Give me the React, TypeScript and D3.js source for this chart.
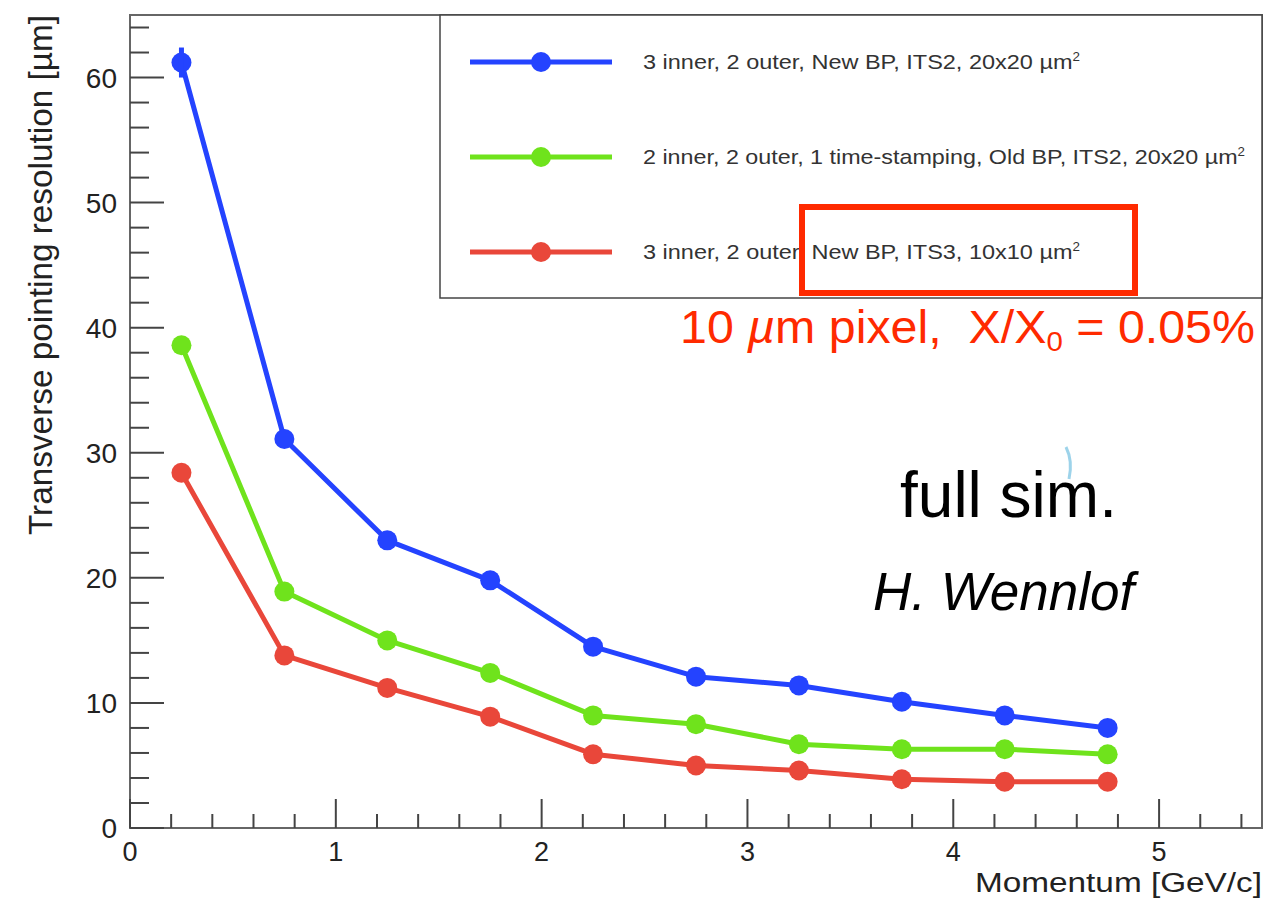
import React from "react";
import * as d3 from "d3";

const momentum = [0.25, 0.75, 1.25, 1.75, 2.25, 2.75, 3.25, 3.75, 4.25, 4.75];
const blueValues = [61.2, 31.1, 23.0, 19.8, 14.5, 12.1, 11.4, 10.1, 9.0, 8.0];
const greenValues = [38.6, 18.9, 15.0, 12.4, 9.0, 8.3, 6.7, 6.3, 6.3, 5.9];
const redValues = [28.4, 13.8, 11.2, 8.9, 5.9, 5.0, 4.6, 3.9, 3.7, 3.7];
const blueErrors = [1.2, 0, 0, 0, 0, 0, 0, 0, 0, 0];

const legendLabels = [
  "3 inner, 2 outer, New BP, ITS2, 20x20 \u00b5m",
  "2 inner, 2 outer, 1 time-stamping, Old BP, ITS2, 20x20 \u00b5m",
  "3 inner, 2 outer, New BP, ITS3, 10x10 \u00b5m",
];
const legendWidths = [437, 602, 437];
const seriesColors = ["#2443ff", "#6fe31c", "#e9473a"];

const W = 1278;
const H = 899;
const FONT = "'Liberation Sans', Arial, Helvetica, sans-serif";

export default function App() {
  const x = d3.scaleLinear().domain([0, 5.5]).range([130, 1262]);
  const y = d3.scaleLinear().domain([0, 65]).range([828, 15]);
  const series = [blueValues, greenValues, redValues];
  const line = d3
    .line<number>()
    .x((_, i) => x(momentum[i]))
    .y((d) => y(d));

  const xMajor = x.ticks(6);
  const xMinor = d3.range(0, 5.5001, 0.2).filter((v) => Math.abs(v - Math.round(v)) > 1e-6);
  const yMajor = y.ticks(7);
  const yMinor = d3.range(0, 65.001, 2).filter((v) => Math.abs(v % 10) > 1e-6);

  const axisColor = "#444";
  const legendY = [62, 157, 252];

  return (
    <svg
      width={W}
      height={H}
      style={{ position: "fixed", left: 0, top: 0, background: "#fff" }}
      fontFamily={FONT}
    >
      <rect x={0} y={0} width={W} height={H} fill="#fff" />
      {/* frame */}
      <rect x={130} y={15} width={1132} height={813} fill="none" stroke="#666" strokeWidth={2} />

      {/* x ticks */}
      {xMajor.map((v) => (
        <line key={"xM" + v} x1={x(v)} x2={x(v)} y1={828} y2={799} stroke={axisColor} strokeWidth={2} />
      ))}
      {xMinor.map((v) => (
        <line key={"xm" + v} x1={x(v)} x2={x(v)} y1={828} y2={814} stroke={axisColor} strokeWidth={2} />
      ))}
      {xMajor.map((v) => (
        <text key={"xl" + v} x={x(v)} y={861} fontSize={27} textAnchor="middle" fill="#222">
          {v}
        </text>
      ))}

      {/* y ticks */}
      {yMajor.map((v) => (
        <line key={"yM" + v} x1={130} x2={164} y1={y(v)} y2={y(v)} stroke={axisColor} strokeWidth={2} />
      ))}
      {yMinor.map((v) => (
        <line key={"ym" + v} x1={130} x2={149} y1={y(v)} y2={y(v)} stroke={axisColor} strokeWidth={2} />
      ))}
      {yMajor.map((v) => (
        <text key={"yl" + v} x={117} y={y(v) + 10} fontSize={28} textAnchor="end" fill="#222">
          {v}
        </text>
      ))}

      {/* axis titles */}
      <text x={1262} y={892} fontSize={27} textAnchor="end" fill="#222" textLength={287} lengthAdjust="spacingAndGlyphs">
        Momentum [GeV/c]
      </text>
      <text
        transform={`translate(52,15) rotate(-90)`}
        fontSize={33}
        textAnchor="end"
        fill="#222"
        textLength={520}
        lengthAdjust="spacingAndGlyphs"
      >
        Transverse pointing resolution [µm]
      </text>

      {/* series */}
      {series.map((vals, si) => (
        <g key={"s" + si}>
          <path d={line(vals) || ""} fill="none" stroke={seriesColors[si]} strokeWidth={5} strokeLinejoin="round" />
          {vals.map((v, i) => (
            <circle key={i} cx={x(momentum[i])} cy={y(v)} r={10} fill={seriesColors[si]} />
          ))}
        </g>
      ))}
      {blueErrors.map((e, i) =>
        e > 0 ? (
          <line
            key={"err" + i}
            x1={x(momentum[i])}
            x2={x(momentum[i])}
            y1={y(blueValues[i] + e)}
            y2={y(blueValues[i] - e)}
            stroke={seriesColors[0]}
            strokeWidth={5}
          />
        ) : null
      )}

      {/* legend */}
      <rect x={440} y={15} width={822} height={283} fill="#fff" stroke="#444" strokeWidth={1.5} />
      {legendLabels.map((lab, i) => (
        <g key={"lg" + i}>
          <line x1={470} x2={612} y1={legendY[i]} y2={legendY[i]} stroke={seriesColors[i]} strokeWidth={5} />
          <circle cx={541} cy={legendY[i]} r={10} fill={seriesColors[i]} />
          <text
            x={643}
            y={legendY[i] + 7}
            fontSize={21}
            fill="#333"
            textLength={legendWidths[i]}
            lengthAdjust="spacingAndGlyphs"
          >
            {lab}
            <tspan dy={-8} fontSize={12}>2</tspan>
          </text>
        </g>
      ))}

      {/* red highlight box */}
      <rect x={802} y={207} width={333} height={86} fill="none" stroke="#ff2a00" strokeWidth={6} />

      {/* annotations */}
      <text x={680} y={343} fontSize={46} fill="#ff2a00" textLength={575} lengthAdjust="spacingAndGlyphs">
        10 <tspan fontStyle="italic">µ</tspan>m pixel,{"\u00a0\u00a0"}X/X
        <tspan fontSize={28} dy={8}>0</tspan>
        <tspan dy={-8}> = 0.05%</tspan>
      </text>
      <text x={900} y={517} fontSize={64} fill="#000">
        full sim.
      </text>
      <text x={873} y={610} fontSize={53} fontStyle="italic" fill="#000">
        H. Wennlof
      </text>
      <path d="M1066,447 Q1073,461 1069,479" fill="none" stroke="#8ccbe6" strokeWidth={3} opacity={0.85} />
    </svg>
  );
}
